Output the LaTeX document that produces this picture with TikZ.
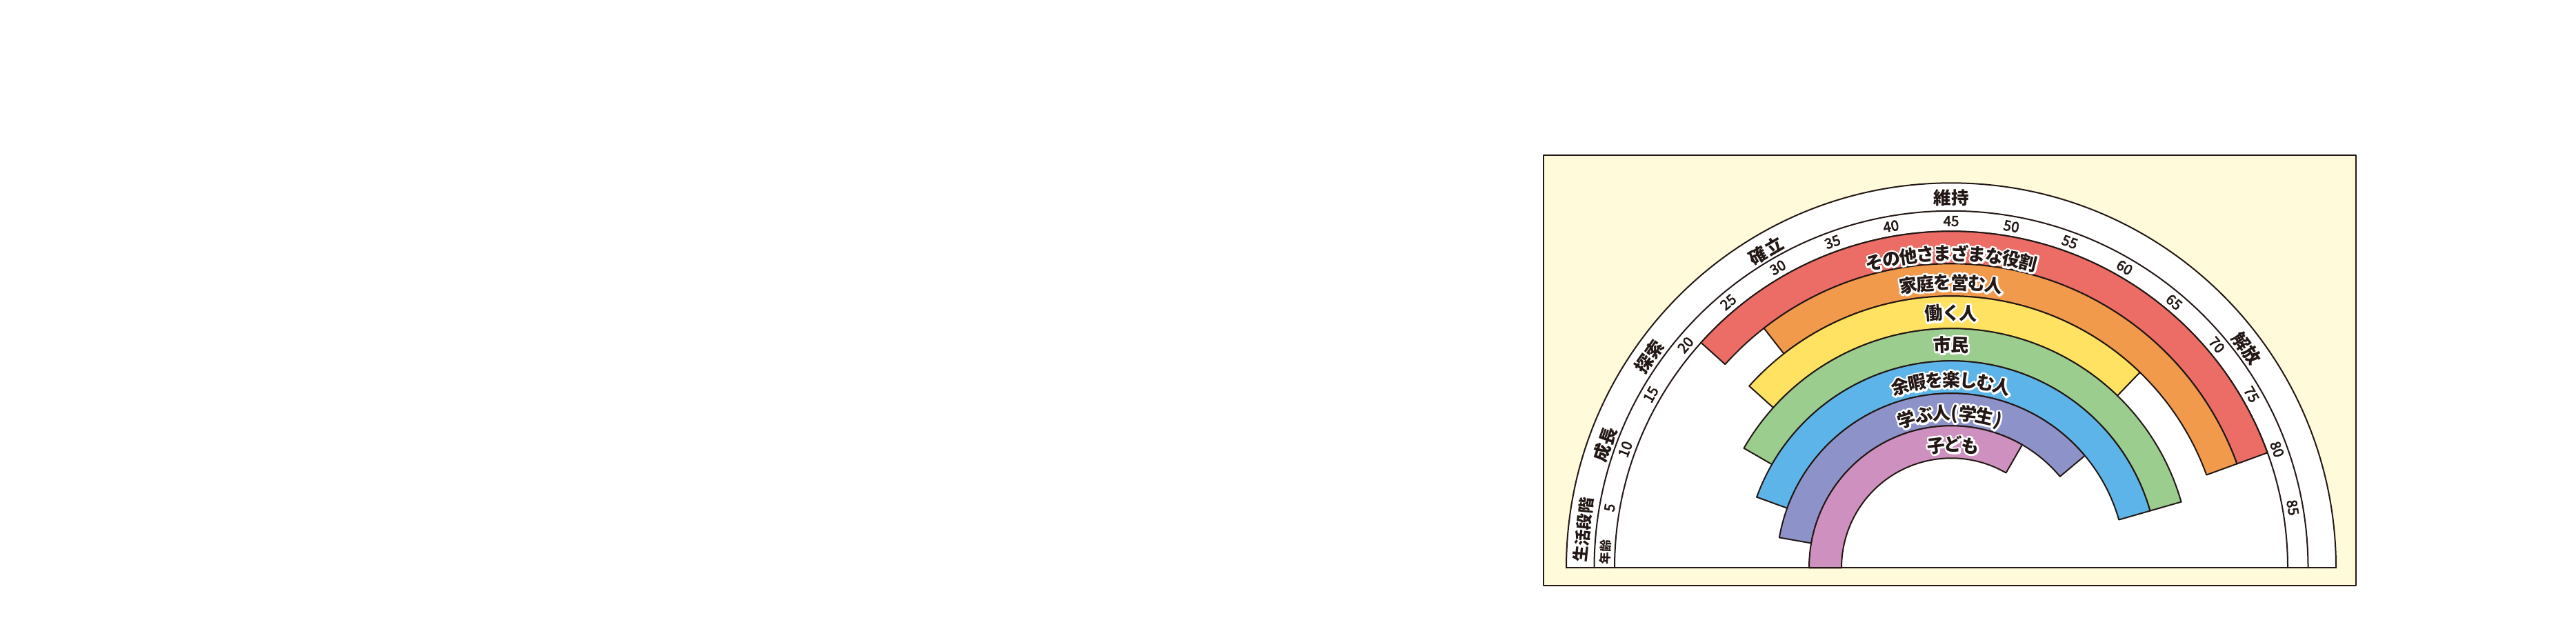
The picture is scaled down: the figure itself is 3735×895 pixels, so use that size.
\documentclass[tikz,border=0pt]{standalone}
\usepackage{fontspec}
\setmainfont{Noto Sans CJK JP}
\newfontfamily\numfont{Noto Sans CJK JP}[FakeBold=3]
\newfontfamily\halofont{Noto Sans CJK JP}[UprightFeatures={FakeBold=21}, BoldFeatures={FakeBold=21}]
\definecolor{cream}{RGB}{255,250,218}
\definecolor{lnc}{RGB}{35,24,21}
\definecolor{cred}{RGB}{236,108,102}
\definecolor{corange}{RGB}{242,154,76}
\definecolor{cyellow}{RGB}{255,226,98}
\definecolor{cgreen}{RGB}{154,205,142}
\definecolor{cblue}{RGB}{93,180,232}
\definecolor{cpurple}{RGB}{141,147,200}
\definecolor{cpink}{RGB}{206,145,191}
\tikzset{
  ln/.style={draw=lnc, line width=2pt},
  ch/.style={inner sep=0pt, outer sep=0pt, anchor=center},
  num/.style={ch, font=\fontsize{20.5}{20.5}\selectfont\numfont, text=lnc, text height=15pt, text depth=0pt},
  stagelbl/.style={ch, font=\fontsize{25.5}{25.5}\selectfont\bfseries, text=lnc, text height=22.4pt, text depth=3.1pt},
  stagefour/.style={ch, font=\fontsize{23.5}{23.5}\selectfont\bfseries, text=lnc, text height=20.7pt, text depth=2.8pt},
  agelbl/.style={ch, font=\fontsize{17.5}{17.5}\selectfont\bfseries, text=lnc, text height=15.4pt, text depth=2.1pt},
  role/.style={ch, font=\fontsize{26}{26}\selectfont\bfseries, text=lnc, text height=22.9pt, text depth=3.1pt},
  rolehalo/.style={ch, font=\fontsize{26}{26}\selectfont\halofont\bfseries, text=white, text height=22.9pt, text depth=3.1pt},
}
\newcommand\arctext[5]{%
  \foreach \s/\chr in {#5}{%
    \pgfmathsetmacro\ang{#3-(\s)/(#2)*57.29578}%
    \node[#1, rotate=\ang-90] at (\ang:#2) {\makebox[#4pt]{\chr}};
  }}
\newcommand\haloarctext[3]{%
  \arctext{rolehalo}{#1}{#2}{18}{#3}%
  \arctext{role}{#1}{#2}{18}{#3}}
\newcommand\band[5]{%
  \draw[ln, fill=#1] (#4:#2) arc[start angle=#4, end angle=#5, radius=#2]
    -- (#5:#3) arc[start angle=#5, end angle=#4, radius=#3] -- cycle;}
\begin{document}
\begin{tikzpicture}[x=1pt, y=1pt, line join=round, line cap=round]
\useasboundingbox (0,0) rectangle (3735,895);
\fill[white] (0,0) rectangle (3735,895);
\draw[draw=lnc, line width=2.2pt, fill=cream] (2238.3,46) rectangle (3416,670);
\begin{scope}[shift={(2829,71.7)}]
  \coordinate (C) at (0,0);
  % rings
  \fill[white] (558,0) arc[start angle=0, end angle=180, radius=558] -- cycle;
  \draw[ln] (558,0) arc[start angle=0, end angle=180, radius=558];
  \draw[ln] (517.5,0) arc[start angle=0, end angle=180, radius=517.5];
  \draw[ln] (488,0) arc[start angle=0, end angle=180, radius=488];
  % bands
  \band{cred}{488}{441}{138}{20}
  \band{corange}{441}{394}{128}{20}
  \band{cyellow}{394}{347}{138}{46}
  \band{cgreen}{347}{300}{150}{16}
  \band{cblue}{300}{253}{160}{16}
  \band{cpurple}{253}{206}{170}{40}
  \band{cpink}{206}{159}{180}{60}
  \draw[ln] (-558,0) -- (558,0);
  % ages
  \foreach \a in {5,10,...,85}{
    \node[num, rotate=90-2*\a] (age\a) at ({180-2*\a}:503) {\a};
  }
  % stages
  \node[stagelbl, rotate=0] (iji) at (90:536) {維持};
  \node[stagelbl, rotate=30.3] (kakuritsu) at (120.3:532) {確\kern2.5pt立};
  \node[stagelbl, rotate=55] (tansaku) at (145:534) {探索};
  \node[stagelbl, rotate=70.4] (seicho) at (160.4:533) {成長};
  \node[stagelbl, rotate=-53.4] (kaiho) at (36.6:534) {解放};
  \node[stagefour, rotate=84.1] (dankai) at (174.1:536) {生活段階};
  \node[agelbl, rotate=87.4] (nenrei) at (177.4:502) {年齢};
  % roles
  \haloarctext{456}{90}{-112.5/そ,-87.5/の,-62.5/他,-37.5/さ,-12.5/ま,12.5/ざ,37.5/ま,62.5/な,87.5/役,112.5/割}
  \haloarctext{414}{90}{-62.5/家,-37.5/庭,-12.5/を,12.5/営,37.5/む,62.5/人}
  \haloarctext{370}{90}{-25/働,0/く,25/人}
  \haloarctext{323.5}{90}{-12.5/市,12.5/民}
  \haloarctext{273}{90}{-75/余,-50/暇,-25/を,0/楽,25/し,50/む,75/人}
  \haloarctext{225}{90}{-66/学,-40/ぶ,-14/人,5/{(},24/学,49/生,69/{)}}
  \haloarctext{179}{89}{-25/子,0/ど,25/も}
\end{scope}
\end{tikzpicture}
\end{document}
